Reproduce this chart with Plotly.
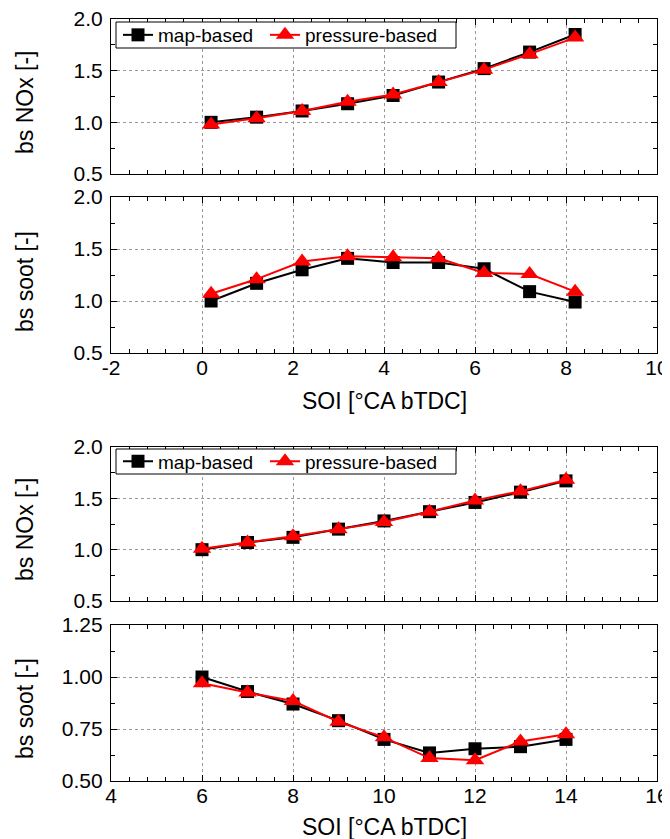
import plotly.graph_objects as go

# ---------------- data ----------------
soi_a = [0.2, 1.2, 2.2, 3.2, 4.2, 5.2, 6.2, 7.2, 8.2]
nox_a_map = [1.00, 1.05, 1.11, 1.18, 1.26, 1.39, 1.52, 1.68, 1.85]
nox_a_press = [0.98, 1.04, 1.11, 1.20, 1.27, 1.39, 1.51, 1.66, 1.82]
soot_a_map = [1.00, 1.17, 1.30, 1.41, 1.37, 1.37, 1.31, 1.09, 0.99]
soot_a_press = [1.07, 1.21, 1.38, 1.43, 1.42, 1.41, 1.27, 1.26, 1.09]

soi_b = [6, 7, 8, 9, 10, 11, 12, 13, 14]
nox_b_map = [1.00, 1.07, 1.12, 1.20, 1.28, 1.37, 1.46, 1.56, 1.67]
nox_b_press = [1.01, 1.07, 1.13, 1.20, 1.27, 1.37, 1.48, 1.57, 1.68]
soot_b_map = [1.00, 0.93, 0.87, 0.79, 0.70, 0.635, 0.655, 0.665, 0.70]
soot_b_press = [0.97, 0.925, 0.885, 0.785, 0.71, 0.61, 0.60, 0.69, 0.725]

x_ticks_a = [-2, 0, 2, 4, 6, 8, 10]
x_ticks_b = [4, 6, 8, 10, 12, 14, 16]
x_labels_a = ["-2", "0", "2", "4", "6", "8", "10"]
x_labels_b = ["4", "6", "8", "10", "12", "14", "16"]

series_names = ["map-based", "pressure-based"]
y_titles = ["bs NOx [-]", "bs soot [-]", "bs NOx [-]", "bs soot [-]"]
x_title = "SOI [°CA bTDC]"

# ---------------- layout helpers ----------------
OFF = 8                      # page body margin of the browser
W, H = 670 - OFF, 839 - OFF  # figure size so that it fills the window
FONT = "Liberation Sans, Arial, sans-serif"
x_left, x_right = 111, 657   # screen px
panels = [(19, 174), (197, 353), (447, 601), (625, 781)]  # top, bottom screen px


def px(p):
    return (p - OFF) / W


def py(p):
    return 1 - (p - OFF) / H


fig = go.Figure()

# legends: one per entry so that entry positions can be matched
data_sets = [
    (soi_a, nox_a_map, nox_a_press, ("legend", "legend3")),
    (soi_a, soot_a_map, soot_a_press, None),
    (soi_b, nox_b_map, nox_b_press, ("legend2", "legend4")),
    (soi_b, soot_b_map, soot_b_press, None),
]

for i, (xs, ym, yp, legs) in enumerate(data_sets):
    ax = "" if i == 0 else str(i + 1)
    common = dict(xaxis="x" + ax, yaxis="y" + ax, mode="lines+markers",
                  showlegend=legs is not None)
    fig.add_trace(go.Scatter(x=xs, y=ym, name=series_names[0],
                             line=dict(color="black", width=2),
                             marker=dict(symbol="square", size=13, color="black"),
                             legend=legs[0] if legs else "legend",
                             **common))
    fig.add_trace(go.Scatter(x=xs, y=yp, name=series_names[1],
                             line=dict(color="#ff0000", width=2),
                             marker=dict(symbol="triangle-up", size=16, color="#ff0000"),
                             legend=legs[1] if legs else "legend",
                             **common))

axis_common = dict(
    showline=True, linecolor="black", linewidth=1.2, mirror="ticks",
    ticks="inside", ticklen=6, tickwidth=1, tickcolor="black",
    showgrid=True, gridcolor="#9a9a9a", gridwidth=1, griddash="dot",
    zeroline=False, automargin=False, ticklabeloverflow="allow",
    tickfont=dict(family=FONT, size=21, color="black"),
)

x_ranges = [[-2, 10], [-2, 10], [4, 16], [4, 16]]
x_tickvals = [x_ticks_a, x_ticks_a, x_ticks_b, x_ticks_b]
x_ticktext = [x_labels_a, x_labels_a, x_labels_b, x_labels_b]
y_ranges = [[0.5, 2.0], [0.5, 2.0], [0.5, 2.0], [0.5, 1.25]]
y_dticks = [0.5, 0.5, 0.5, 0.25]
y_formats = [".1f", ".1f", ".1f", ".2f"]

layout = dict(
    width=W, height=H,
    margin=dict(l=0, r=0, t=0, b=0, autoexpand=False),
    paper_bgcolor="white", plot_bgcolor="white",
    font=dict(family=FONT, color="black"),
)

for i in range(4):
    ax = "" if i == 0 else str(i + 1)
    top, bot = panels[i]
    layout["xaxis" + ax] = dict(
        axis_common,
        domain=[px(x_left), px(x_right)],
        range=x_ranges[i], tickmode="array",
        tickvals=x_tickvals[i], ticktext=x_ticktext[i],
        showticklabels=(i % 2 == 1),
        anchor="y" + ax,
        ticklabelstandoff=-4,
        minor=dict(dtick=0.4, tick0=x_ranges[i][0], ticks="inside", ticklen=3.5,
                   tickcolor="black", showgrid=False),
    )
    layout["yaxis" + ax] = dict(
        axis_common,
        domain=[py(bot), py(top)],
        range=y_ranges[i], dtick=y_dticks[i], tick0=0.5,
        tickformat=y_formats[i],
        anchor="x" + ax,
        ticklabelstandoff=3,
        minor=dict(dtick=y_dticks[i] / 2, ticks="inside", ticklen=3.5,
                   tickcolor="black", showgrid=False),
    )

legend_style = dict(
    orientation="h", xanchor="left", yanchor="middle",
    bgcolor="rgba(0,0,0,0)", borderwidth=0,
    font=dict(family=FONT, size=19, color="black"),
    itemwidth=30, tracegroupgap=0,
)
legend_boxes = [(116, 456, 22, 48), (116, 456, 449, 474)]  # screen px
item_x = [118, 265]  # screen px of each legend entry
layout["legend"] = dict(legend_style, x=px(item_x[0]), y=py(35))
layout["legend3"] = dict(legend_style, x=px(item_x[1]), y=py(35))
layout["legend2"] = dict(legend_style, x=px(item_x[0]), y=py(461.5))
layout["legend4"] = dict(legend_style, x=px(item_x[1]), y=py(461.5))

fig.update_layout(**layout)

for (x0, x1, y0, y1) in legend_boxes:
    fig.add_shape(type="rect", xref="paper", yref="paper",
                  x0=px(x0), x1=px(x1), y0=py(y1), y1=py(y0),
                  line=dict(color="black", width=1), fillcolor="white", layer="above")

# y-axis titles
y_title_centers = [102, 282, 529, 709]
for t, yc in zip(y_titles, y_title_centers):
    fig.add_annotation(text=t, x=px(25), y=py(yc), xref="paper", yref="paper",
                       textangle=-90, showarrow=False, xanchor="center", yanchor="middle",
                       font=dict(family=FONT, size=23, color="black"))

# x-axis titles
for yc in [401, 827]:
    fig.add_annotation(text=x_title, x=px((x_left + x_right) / 2), y=py(yc),
                       xref="paper", yref="paper", showarrow=False,
                       xanchor="center", yanchor="middle",
                       font=dict(family=FONT, size=23, color="black"))

fig.write_html("out.html")
